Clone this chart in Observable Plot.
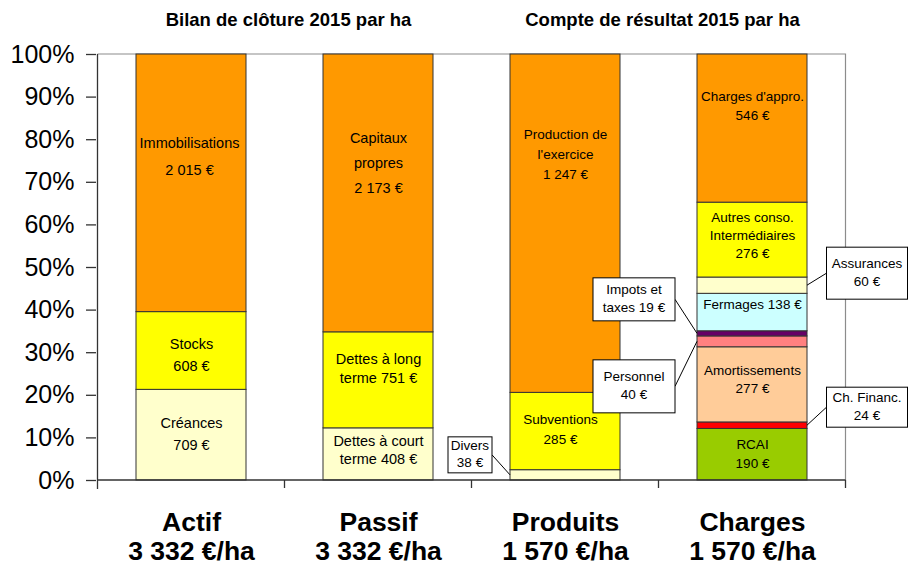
<!DOCTYPE html>
<html>
<head>
<meta charset="utf-8">
<script src="https://cdn.jsdelivr.net/npm/d3@7"></script>
<script src="https://cdn.jsdelivr.net/npm/@observablehq/plot@0.6"></script>
<style>
  html, body { margin: 0; padding: 0; background: #fff; }
</style>
</head>
<body>
<div id="chart"></div>
<script>
// ---------------- data ----------------
const groups = ["Actif", "Passif", "Produits", "Charges"];
const sectionTitles = ["Bilan de clôture 2015 par ha", "Compte de résultat 2015 par ha"];

const actifNames = ["Créances", "Stocks", "Immobilisations"];
const actifValues = [709, 608, 2015];

const passifNames = ["Dettes à court terme", "Dettes à long terme", "Capitaux propres"];
const passifValues = [408, 751, 2173];

const produitsNames = ["Divers", "Subventions", "Production de l'exercice"];
const produitsValues = [38, 285, 1247];

const chargesNames = ["RCAI", "Ch. Financ.", "Amortissements", "Personnel", "Impots et taxes",
  "Fermages", "Assurances", "Autres conso. Intermédiaires", "Charges d'appro."];
const chargesValues = [190, 24, 277, 40, 19, 138, 60, 276, 546];

const yTicks = [0, 0.1, 0.2, 0.3, 0.4, 0.5, 0.6, 0.7, 0.8, 0.9, 1];

// ---------------- styles ----------------
const FONT = '"Liberation Sans", Arial, Helvetica, sans-serif';
const fillOf = {
  "Créances": "#FFFFCC", "Stocks": "#FFFF00", "Immobilisations": "#FF9900",
  "Dettes à court terme": "#FFFFCC", "Dettes à long terme": "#FFFF00", "Capitaux propres": "#FF9900",
  "Divers": "#FFFFCC", "Subventions": "#FFFF00", "Production de l'exercice": "#FF9900",
  "RCAI": "#99CC00", "Ch. Financ.": "#FF0000", "Amortissements": "#FFCC99", "Personnel": "#FF8080",
  "Impots et taxes": "#660066", "Fermages": "#CCFFFF", "Assurances": "#FFFFCC",
  "Autres conso. Intermédiaires": "#FFFF00", "Charges d'appro.": "#FF9900"
};

// ---------------- table built from the arrays ----------------
const fr = d3.formatLocale({decimal: ",", thousands: " ", grouping: [3], currency: ["", " €"]});
const num = fr.format(",d");
const euro = v => `${num(v)} €`;

const rows = [];
const totals = {};
for (const [group, names, values] of [
  ["Actif", actifNames, actifValues],
  ["Passif", passifNames, passifValues],
  ["Produits", produitsNames, produitsValues],
  ["Charges", chargesNames, chargesValues]
]) {
  const total = d3.sum(values);
  totals[group] = total;
  let acc = 0;
  names.forEach((name, i) => {
    rows.push({group, name, value: values[i], y1: acc / total, y2: (acc + values[i]) / total});
    acc += values[i];
  });
}

const wrapLabel = {
  "Capitaux propres": v => `Capitaux\npropres\n${v}`,
  "Dettes à long terme": v => `Dettes à long\nterme ${v}`,
  "Dettes à court terme": v => `Dettes à court\nterme ${v}`,
  "Production de l'exercice": v => `Production de\nl'exercice\n${v}`,
  "Autres conso. Intermédiaires": v => `Autres conso.\nIntermédiaires\n${v}`,
  "Fermages": v => `Fermages ${v}`,
  "Impots et taxes": v => `Impots et\ntaxes ${v}`
};
const labelOf = d => (wrapLabel[d.name] || (v => `${d.name}\n${v}`))(euro(d.value));

// inner labels: [fontSize, lineHeight, vertical nudge px]
const innerStyle = {
  "Créances": [14.5, 1.52, -3],
  "Stocks": [14.5, 1.52, 2],
  "Immobilisations": [14.5, 1.86, -30],
  "Dettes à court terme": [14.5, 1.24, -5],
  "Dettes à long terme": [14.5, 1.34, -13],
  "Capitaux propres": [14.5, 1.72, -33],
  "Subventions": [13.5, 1.45, -4],
  "Production de l'exercice": [13.5, 1.5, -71],
  "RCAI": [13.5, 1.4, -2],
  "Amortissements": [13.5, 1.33, -7],
  "Fermages": [13.5, 1.3, -9],
  "Autres conso. Intermédiaires": [13.5, 1.33, -6],
  "Charges d'appro.": [13.5, 1.4, -24]
};
const innerDx = {"Subventions": -5, "Immobilisations": -2};

// callouts: side of bar, box centre offset from bar edge / segment middle, box size
const callout = {
  "Divers": {side: "left", dx: -40, dy: -20, w: 44, h: 36},
  "Impots et taxes": {side: "left", dx: -63, dy: -34, w: 82, h: 43},
  "Personnel": {side: "left", dx: -63, dy: 45, w: 82, h: 53},
  "Assurances": {side: "right", dx: 60, dy: -12, w: 81, h: 52},
  "Ch. Financ.": {side: "right", dx: 60, dy: -18, w: 81, h: 40}
};

// ---------------- render helpers ----------------
function frameMark(index, scales) {
  const {x, y} = scales;
  const step = x.step(), bw = x.bandwidth();
  const left = x(groups[0]) - (step - bw) / 2;
  const right = left + step * groups.length;
  const top = y(1), bottom = y(0);
  const g = d3.create("svg:g").attr("fill", "none");
  g.append("path").attr("stroke", "#8c8c8c").attr("stroke-width", 1.2)
    .attr("d", `M${left},${top}H${right}V${bottom}`);
  return g.node();
}

function axesMark(index, scales) {
  const {x, y} = scales;
  const step = x.step(), bw = x.bandwidth();
  const left = x(groups[0]) - (step - bw) / 2;
  const right = left + step * groups.length;
  const top = y(1), bottom = y(0);
  const g = d3.create("svg:g").attr("fill", "none").attr("stroke", "#333").attr("stroke-width", 1.3);
  g.append("path").attr("d", `M${left},${top}V${bottom + 9}M${left},${bottom}H${right}`);
  for (let i = 1; i <= groups.length; ++i) {
    g.append("path").attr("d", `M${left + i * step},${bottom}V${bottom + 8}`);
  }
  return g.node();
}

function titlesMark(index, scales) {
  const {x} = scales;
  const bw = x.bandwidth();
  const g = d3.create("svg:g")
    .attr("font-family", FONT).attr("font-size", 18.5).attr("font-weight", "bold")
    .attr("text-anchor", "middle").attr("fill", "black");
  [[0, 1], [2, 3]].forEach(([a, b], k) => {
    const cx = (x(groups[a]) + x(groups[b]) + bw) / 2 + 4;
    g.append("text").attr("x", cx).attr("y", 26).text(sectionTitles[k]);
  });
  return g.node();
}

function calloutMark(index, scales) {
  const {x, y} = scales;
  const bw = x.bandwidth();
  const g = d3.create("svg:g").attr("font-family", FONT).attr("font-size", 13.5);
  for (const d of rows) {
    const c = callout[d.name];
    if (!c) continue;
    const edge = c.side === "left" ? x(d.group) : x(d.group) + bw;
    const my = y((d.y1 + d.y2) / 2);
    const cx = edge + c.dx, cy = my + c.dy;
    const bx = c.side === "left" ? cx + c.w / 2 : cx - c.w / 2;
    g.append("line").attr("x1", edge).attr("y1", my).attr("x2", bx).attr("y2", cy)
      .attr("stroke", "black").attr("stroke-width", 1);
    g.append("rect").attr("x", cx - c.w / 2).attr("y", cy - c.h / 2)
      .attr("width", c.w).attr("height", c.h)
      .attr("fill", "white").attr("stroke", "black").attr("stroke-width", 1);
    const lines = labelOf(d).split("\n");
    const lh = 17.5;
    lines.forEach((t, i) => {
      g.append("text").attr("x", cx).attr("y", cy + (i - (lines.length - 1) / 2) * lh - 1)
        .attr("dy", "0.35em").attr("text-anchor", "middle").attr("fill", "black").text(t);
    });
  }
  return g.node();
}

const innerMarks = Object.entries(innerStyle).map(([name, [fs, lh, dy]]) =>
  Plot.text(rows.filter(d => d.name === name), {
    x: "group",
    y: d => (d.y1 + d.y2) / 2,
    text: labelOf,
    fontSize: fs,
    lineHeight: lh,
    lineAnchor: "middle",
    dy,
    dx: innerDx[name] || 0,
    fill: "black"
  })
);

const chart = Plot.plot({
  width: 908,
  height: 566,
  marginTop: 54,
  marginBottom: 86,
  marginLeft: 96,
  marginRight: 62,
  style: {fontFamily: FONT, background: "white", color: "black"},
  x: {domain: groups, paddingInner: 0.413, paddingOuter: 0.2065, label: null},
  y: {domain: [0, 1], label: null},
  color: {type: "identity"},
  marks: [
    frameMark,
    Plot.barY(rows, {
      x: "group", y1: "y1", y2: "y2",
      fill: d => fillOf[d.name],
      stroke: "#333", strokeWidth: 1
    }),
    axesMark,
    Plot.axisY({
      ticks: yTicks, tickFormat: d3.format(".0%"),
      tickSize: 10, tickPadding: 12, fontSize: 25, stroke: "#333", strokeWidth: 1.3
    }),
    Plot.axisX({
      tickSize: 0, tickPadding: 29, fontSize: 26.5, fontWeight: "bold", lineHeight: 1.12,
      tickFormat: g => `${g}\n${num(totals[g])} €/ha`
    }),
    ...innerMarks,
    calloutMark,
    titlesMark
  ]
});
document.getElementById("chart").append(chart);
</script>
</body>
</html>
